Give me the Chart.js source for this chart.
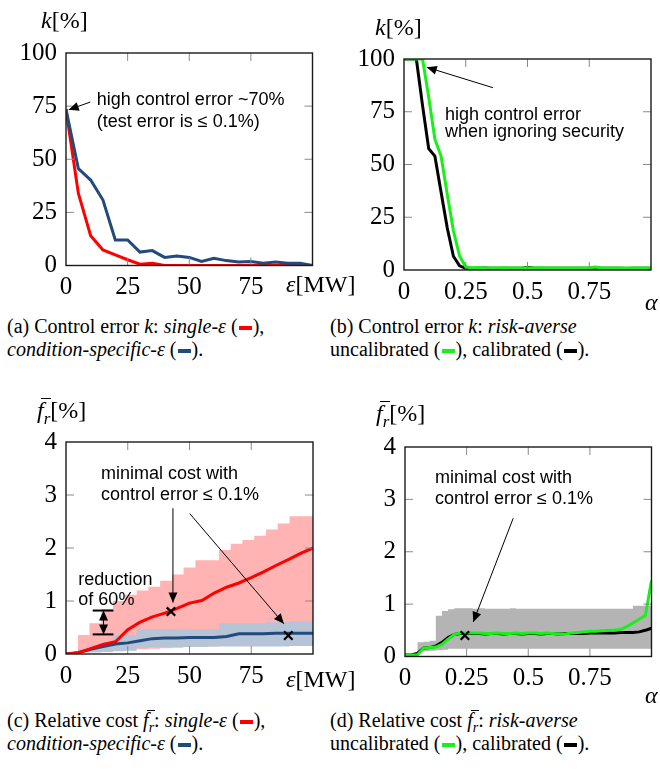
<!DOCTYPE html>
<html>
<head>
<meta charset="utf-8">
<script src="https://cdn.jsdelivr.net/npm/chart.js@4.4.0/dist/chart.umd.min.js"></script>
<style>
  body { margin: 0; background: #fff; }
  #page { position: relative; width: 660px; height: 774px; overflow: hidden; background: #fff; }
  canvas { position: absolute; }
  .lbl { position: absolute; font-family: "Liberation Serif", serif; font-size: 24px; line-height: 28px; color: #000; white-space: nowrap; }
  .cap { position: absolute; font-family: "Liberation Serif", serif; font-size: 20px; line-height: 23px; color: #000; white-space: nowrap; }
  .dash { display: inline-block; width: 13px; height: 4px; vertical-align: middle; margin: 0 1px; }
  sub { line-height: 0; }
  .fb { position: relative; }
  .fb::before { content: ''; position: absolute; left: 0.18em; width: 0.42em; top: 0.06em; border-top: 1.3px solid #000; }
</style>
</head>
<body>
<div id="page">
  <canvas id="chartA" width="330" height="305" style="left:0;top:0"></canvas>
  <canvas id="chartB" width="330" height="305" style="left:330px;top:0"></canvas>
  <canvas id="chartC" width="330" height="320" style="left:0;top:380px"></canvas>
  <canvas id="chartD" width="330" height="320" style="left:330px;top:380px"></canvas>

  <div class="lbl" style="left:41px;top:6px"><i>k</i>[%]</div>
  <div class="lbl" style="left:375px;top:13px"><i>k</i>[%]</div>
  <div class="lbl" style="left:286px;top:270px"><i>ε</i>[MW]</div>
  <div class="lbl" style="left:645px;top:288px"><i>α</i></div>
  <div class="lbl" style="left:37px;top:396px"><i class="fb">f</i><sub style="font-size:17px"><i>r</i></sub>[%]</div>
  <div class="lbl" style="left:376px;top:399px"><i class="fb">f</i><sub style="font-size:17px"><i>r</i></sub>[%]</div>
  <div class="lbl" style="left:286px;top:665px"><i>ε</i>[MW]</div>
  <div class="lbl" style="left:645px;top:681px"><i>α</i></div>

  <div class="cap" style="left:7px;top:315px">(a) Control error <i>k</i>: <i>single-ε</i> (<span class="dash" style="background:#ff0000"></span>),<br><i>condition-specific-ε</i> (<span class="dash" style="background:#234a7c"></span>).</div>
  <div class="cap" style="left:330px;top:315px">(b) Control error <i>k</i>: <i>risk-averse</i><br>uncalibrated (<span class="dash" style="background:#19f019"></span>), calibrated (<span class="dash" style="background:#000"></span>).</div>
  <div class="cap" style="left:7px;top:709px">(c) Relative cost <i class="fb">f</i><sub style="font-size:14px"><i>r</i></sub>: <i>single-ε</i> (<span class="dash" style="background:#ff0000"></span>),<br><i>condition-specific-ε</i> (<span class="dash" style="background:#234a7c"></span>).</div>
  <div class="cap" style="left:330px;top:709px">(d) Relative cost <i class="fb">f</i><sub style="font-size:14px"><i>r</i></sub>: <i>risk-averse</i><br>uncalibrated (<span class="dash" style="background:#19f019"></span>), calibrated (<span class="dash" style="background:#000"></span>).</div>
</div>
<script>
    // (a) control error vs epsilon
    const epsA = [0, 5, 10, 15, 20, 25, 30, 35, 40, 45, 50, 55, 60, 65, 70, 75, 80, 85, 90, 95, 100];
    const kSingle = [73.5, 34, 14, 7.3, 5, 2.7, 0.6, 1, 0, 0, 0, 0, 0, 0, 0, 0, 0, 0, 0, 0, 0];
    const kCond = [73.5, 45.6, 40.2, 30.8, 12, 12, 6.3, 7, 3.8, 4.5, 3.8, 1.9, 3.4, 2.3, 1.6, 1.9, 1.1, 1.7, 1.1, 1.1, 0];

    // (b) control error vs alpha
    const alphaB = [0, 0.025, 0.05, 0.075, 0.1, 0.125, 0.15, 0.175, 0.2, 0.225, 0.25, 0.275, 0.3, 0.325, 0.35, 0.375, 0.4, 0.425, 0.45, 0.475, 0.5,
      0.525, 0.55, 0.575, 0.6, 0.625, 0.65, 0.675, 0.7, 0.725, 0.75, 0.775, 0.8, 0.825, 0.85, 0.875, 0.9, 0.925, 0.95, 0.975, 1];
    const kUncal = [100, 100, 100, 100, 82, 62, 54, 36, 18.6, 6.7, 1.5, 1.0, 1.2, 1.0, 0.9, 1.0, 1.1, 1.0, 1.0, 1.0, 1.0,
      1.0, 1.1, 1.0, 1.0, 1.0, 1.0, 1.0, 1.0, 1.0, 1.1, 1.4, 1.0, 1.0, 1.0, 1.0, 1.0, 1.0, 1.0, 1.0, 1.0];
    const kCal = [100, 100, 100, 78, 57.5, 54, 37, 20, 6.5, 2, 0.8, 0.8, 0.8, 0.9, 0.8, 0.8, 0.8, 0.8, 0.8, 0.8, 1.2,
      0.9, 0.8, 0.8, 0.8, 0.8, 0.8, 0.8, 0.8, 0.8, 0.8, 1.0, 0.8, 0.8, 0.8, 0.8, 0.7, 0.8, 0.8, 0.8, 0.8];

    // (c) relative cost vs epsilon
    const costSingle = [0, 0.02, 0.1, 0.18, 0.23, 0.46, 0.6, 0.7, 0.77, 0.86, 0.96, 1.01, 1.15, 1.26, 1.34, 1.44, 1.55, 1.67, 1.78, 1.9, 2.0];
    const costCond = [0, 0.03, 0.09, 0.14, 0.19, 0.21, 0.25, 0.29, 0.3, 0.3, 0.31, 0.31, 0.31, 0.33, 0.38, 0.38, 0.38, 0.39, 0.39, 0.39, 0.39];
    const bandEpsSingle = [4.8, 9.5, 14.3, 19, 23.8, 28.6, 33.3, 38.1, 42.9, 47.6, 52.4, 57.1, 61.9, 66.7, 71.4, 76.2, 81, 85.7, 90.5, 95.2, 100];
    const singleHi = [0.18, 0.36, 0.58, 0.85, 1.0, 1.12, 1.2, 1.27, 1.38, 1.5, 1.63, 1.77, 1.77, 1.96, 2.08, 2.15, 2.23, 2.35, 2.46, 2.6, 2.6];
    const singleLo = [0.02, 0.03, 0.05, 0.06, 0.07, 0.08, 0.09, 0.1, 0.11, 0.12, 0.13, 0.14, 0.14, 0.15, 0.15, 0.15, 0.15, 0.15, 0.15, 0.15, 0.15];
    const bandEpsCond = [9.5, 14.3, 19, 23.8, 28.6, 33.3, 38.1, 42.9, 47.6, 52.4, 57.1, 61.9, 66.7, 71.4, 76.2, 81, 85.7, 90.5, 95.2, 100];
    const condHi = [0.15, 0.17, 0.22, 0.36, 0.36, 0.47, 0.47, 0.47, 0.47, 0.47, 0.47, 0.47, 0.58, 0.58, 0.58, 0.58, 0.6, 0.6, 0.62, 0.62];
    const condLo = [0.02, 0.03, 0.04, 0.05, 0.06, 0.12, 0.13, 0.13, 0.13, 0.13, 0.13, 0.14, 0.14, 0.14, 0.14, 0.14, 0.14, 0.14, 0.15, 0.15];
    const minEpsC = [42.5, 90];
    const minCostC = [0.8, 0.35];

    // (d) relative cost vs alpha
    const costUncal = [0.03, 0.03, 0.03, 0.16, 0.17, 0.18, 0.23, 0.33, 0.42, 0.45, 0.45, 0.45, 0.45, 0.44, 0.44, 0.45, 0.44, 0.44, 0.45, 0.44, 0.45,
      0.45, 0.44, 0.45, 0.44, 0.43, 0.43, 0.45, 0.46, 0.47, 0.48, 0.48, 0.49, 0.5, 0.5, 0.52, 0.57, 0.64, 0.71, 0.78, 1.45];
    const costCal = [0.03, 0.03, 0.06, 0.16, 0.17, 0.2, 0.27, 0.36, 0.42, 0.44, 0.44, 0.44, 0.44, 0.43, 0.44, 0.44, 0.43, 0.44, 0.44, 0.43, 0.44,
      0.44, 0.43, 0.44, 0.44, 0.43, 0.44, 0.44, 0.44, 0.44, 0.45, 0.45, 0.45, 0.45, 0.45, 0.46, 0.46, 0.46, 0.47, 0.5, 0.54];
    const bandAlpha = [0.05, 0.075, 0.1, 0.125, 0.15, 0.175, 0.2, 0.225, 0.25, 0.275, 0.3, 0.325, 0.35, 0.375, 0.4, 0.425, 0.45, 0.475, 0.5,
      0.525, 0.55, 0.575, 0.6, 0.625, 0.65, 0.675, 0.7, 0.725, 0.75, 0.775, 0.8, 0.825, 0.85, 0.875, 0.9, 0.925, 0.95, 0.975, 1];
    const riskHi = [0.27, 0.27, 0.28, 0.3, 0.78, 0.87, 0.9, 0.92, 0.92, 0.92, 0.91, 0.92, 0.91, 0.91, 0.91, 0.91, 0.92, 0.91, 0.91,
      0.91, 0.91, 0.91, 0.91, 0.91, 0.91, 0.91, 0.91, 0.91, 0.91, 0.91, 0.91, 0.91, 0.91, 0.91, 0.91, 0.91, 0.97, 0.97, 0.97];
    const riskLo = [0.08, 0.1, 0.1, 0.11, 0.12, 0.13, 0.15, 0.15, 0.15, 0.15, 0.15, 0.15, 0.15, 0.15, 0.15, 0.15, 0.15, 0.15, 0.15,
      0.15, 0.15, 0.15, 0.15, 0.15, 0.15, 0.15, 0.15, 0.15, 0.15, 0.15, 0.15, 0.15, 0.15, 0.15, 0.15, 0.15, 0.15, 0.15, 0.15];
    const minAlphaD = [0.243];
    const minCostD = [0.4];

    const ticksK = [0, 25, 50, 75, 100];
    const ticksEps = [0, 25, 50, 75, 100];
    const ticksAlpha = [0, 0.25, 0.5, 0.75, 1];
    const ticksCost = [0, 1, 2, 3, 4];

    const RED = '#ff0000', BLUE = '#234a7c', GREEN = '#19f019', BLACK = '#000000';
    const SANS = '"Liberation Sans", Arial, sans-serif';
    const SERIF = '"Liberation Serif", "Times New Roman", serif';

    const pts = (xs, ys) => xs.map((x, i) => ({ x, y: ys[i] }));

    function line(xs, ys, color, order) {
      return { data: pts(xs, ys), borderColor: color, borderWidth: 3, pointRadius: 0, fill: false, tension: 0, order };
    }
    function band(xs, hi, lo, color, order) {
      return [
        { data: pts(xs, hi), borderWidth: 0, borderColor: 'rgba(0,0,0,0)', backgroundColor: color, fill: '+1', stepped: 'after', pointRadius: 0, order },
        { data: pts(xs, lo), borderWidth: 0, borderColor: 'rgba(0,0,0,0)', fill: false, stepped: 'after', pointRadius: 0, order }
      ];
    }
    function marks(xs, ys) {
      return { data: pts(xs, ys), showLine: false, pointStyle: 'crossRot', pointRadius: 6, pointBorderWidth: 2.2,
        borderColor: '#000', pointBorderColor: '#000', order: -1 };
    }

    // box frame with inner ticks, plus arrows and sans text
    const framePlugin = {
      id: 'frame',
      afterDatasetsDraw(chart) {
        const { ctx, chartArea: a, scales } = chart;
        ctx.save();
        ctx.strokeStyle = '#8a8a8a';
        ctx.lineWidth = 1;
        scales.x.ticks.forEach(t => {
          const px = scales.x.getPixelForValue(t.value);
          if (px <= a.left + 1 || px >= a.right - 1) return;
          ctx.beginPath();
          ctx.moveTo(px, a.top); ctx.lineTo(px, a.top + 8);
          ctx.moveTo(px, a.bottom); ctx.lineTo(px, a.bottom - 8);
          ctx.stroke();
        });
        scales.y.ticks.forEach(t => {
          const py = scales.y.getPixelForValue(t.value);
          if (py <= a.top + 1 || py >= a.bottom - 1) return;
          ctx.beginPath();
          ctx.moveTo(a.left, py); ctx.lineTo(a.left + 8, py);
          ctx.moveTo(a.right, py); ctx.lineTo(a.right - 8, py);
          ctx.stroke();
        });
        ctx.strokeStyle = '#1a1a1a';
        ctx.lineWidth = 1.4;
        ctx.strokeRect(a.left, a.top, a.right - a.left, a.bottom - a.top);
        ctx.restore();
      },
      afterDraw(chart, args, opts) {
        const { ctx, scales } = chart;
        const X = v => scales.x.getPixelForValue(v);
        const Y = v => scales.y.getPixelForValue(v);
        ctx.save();
        ctx.fillStyle = '#000';
        ctx.strokeStyle = '#000';
        ctx.font = `18px ${SANS}`;
        ctx.textBaseline = 'middle';
        (opts.texts || []).forEach(t => ctx.fillText(t.s, X(t.x), Y(t.y)));
        (opts.arrows || []).forEach(r => {
          const x1 = X(r.x1), y1 = Y(r.y1), x2 = X(r.x2), y2 = Y(r.y2);
          ctx.lineWidth = 1;
          ctx.beginPath(); ctx.moveTo(x1, y1); ctx.lineTo(x2, y2); ctx.stroke();
          const heads = r.both ? [[x2, y2, x1, y1], [x1, y1, x2, y2]] : [[x2, y2, x1, y1]];
          heads.forEach(([hx, hy, fx, fy]) => {
            const ang = Math.atan2(hy - fy, hx - fx);
            const L = 10, W = 4.5;
            ctx.beginPath();
            ctx.moveTo(hx, hy);
            ctx.lineTo(hx - L * Math.cos(ang) + W * Math.sin(ang), hy - L * Math.sin(ang) - W * Math.cos(ang));
            ctx.lineTo(hx - L * Math.cos(ang) - W * Math.sin(ang), hy - L * Math.sin(ang) + W * Math.cos(ang));
            ctx.closePath();
            ctx.fill();
          });
        });
        (opts.bars || []).forEach(b => {
          ctx.lineWidth = 2;
          ctx.beginPath(); ctx.moveTo(X(b.x1), Y(b.y)); ctx.lineTo(X(b.x2), Y(b.y)); ctx.stroke();
        });
        ctx.restore();
      }
    };

    function makeChart(id, area, xr, yr, xTicks, yTicks, datasets, notes) {
      const cv = document.getElementById(id);
      const W = cv.width, H = cv.height;
      return new Chart(cv, {
        type: 'line',
        data: { datasets },
        plugins: [framePlugin],
        options: {
          responsive: false,
          animation: false,
          layout: { padding: { top: area.top, right: W - area.right, left: 0, bottom: 0 } },
          plugins: { legend: { display: false }, tooltip: { enabled: false }, frame: notes },
          scales: {
            x: {
              type: 'linear', min: xr[0], max: xr[1],
              afterFit: s => { s.height = H - area.bottom; },
              afterBuildTicks: s => { s.ticks = xTicks.map(v => ({ value: v })); },
              grid: { display: false, drawTicks: false }, border: { display: false },
              ticks: { padding: 7, color: '#000', font: { family: SERIF, size: 25 }, maxRotation: 0,
                callback: v => v === xr[1] ? '' : String(v) }
            },
            y: {
              min: yr[0], max: yr[1],
              afterFit: s => { s.width = area.left; },
              afterBuildTicks: s => { s.ticks = yTicks.map(v => ({ value: v })); },
              grid: { display: false, drawTicks: false }, border: { display: false },
              ticks: { padding: 9, color: '#000', font: { family: SERIF, size: 25 } }
            }
          }
        }
      });
    }

    function drawAll() {
      makeChart('chartA', { left: 66, top: 53, right: 312.5, bottom: 265.5 }, [0, 100], [0, 100], ticksEps, ticksK, [
        line(epsA, kSingle, RED, 1),
        line(epsA, kCond, BLUE, 0)
      ], {
        texts: [
          { s: 'high control error ~70%', x: 12.5, y: 77.7 },
          { s: '(test error is \u2264 0.1%)', x: 12.5, y: 67.5 }
        ],
        arrows: [{ x1: 9.85, y1: 76.9, x2: 1.1, y2: 73.3 }]
      });

      makeChart('chartB', { left: 74, top: 59, right: 321, bottom: 270 }, [0, 1], [0, 100], ticksAlpha, ticksK, [
        line(alphaB, kUncal, GREEN, 0),
        line(alphaB, kCal, BLACK, 1)
      ], {
        texts: [
          { s: 'high control error', x: 0.166, y: 73.4 },
          { s: 'when ignoring security', x: 0.166, y: 65.6 }
        ],
        arrows: [{ x1: 0.36, y1: 86.4, x2: 0.092, y2: 96.1 }]
      });

      makeChart('chartC', { left: 66, top: 62, right: 313, bottom: 274 }, [0, 100], [0, 4], ticksEps, ticksCost, [
        marks(minEpsC, minCostC),
        line(epsA, costSingle, RED, 0),
        line(epsA, costCond, BLUE, 0),
        ...band(bandEpsCond, condHi, condLo, '#b5c4d7', 1),
        ...band(bandEpsSingle, singleHi, singleLo, '#ffb3b3', 2)
      ], {
        texts: [
          { s: 'minimal cost with', x: 14.2, y: 3.4 },
          { s: 'control error \u2264 0.1%', x: 14.2, y: 3.0 },
          { s: 'reduction', x: 5.0, y: 1.4 },
          { s: 'of 60%', x: 5.0, y: 1.01 }
        ],
        arrows: [
          { x1: 43.3, y1: 2.75, x2: 43.3, y2: 0.97 },
          { x1: 50.1, y1: 2.65, x2: 88.2, y2: 0.57 },
          { x1: 15.2, y1: 0.82, x2: 15.2, y2: 0.37, both: true }
        ],
        bars: [{ x1: 10.8, x2: 19.2, y: 0.82 }, { x1: 10.8, x2: 19.2, y: 0.37 }]
      });

      makeChart('chartD', { left: 75, top: 67, right: 321.5, bottom: 276.5 }, [0, 1], [0, 4], ticksAlpha, ticksCost, [
        marks(minAlphaD, minCostD),
        line(alphaB, costUncal, GREEN, 0),
        line(alphaB, costCal, BLACK, 0.5),
        ...band(bandAlpha, riskHi, riskLo, '#b4b4b4', 2)
      ], {
        texts: [
          { s: 'minimal cost with', x: 0.122, y: 3.41 },
          { s: 'control error \u2264 0.1%', x: 0.122, y: 3.0 }
        ],
        arrows: [{ x1: 0.439, y1: 2.64, x2: 0.277, y2: 0.66 }]
      });
    }

    Promise.all([
      document.fonts.load('25px "Liberation Serif"'),
      document.fonts.load('18px "Liberation Sans"')
    ]).catch(() => null).then(drawAll);
</script>
</body>
</html>
